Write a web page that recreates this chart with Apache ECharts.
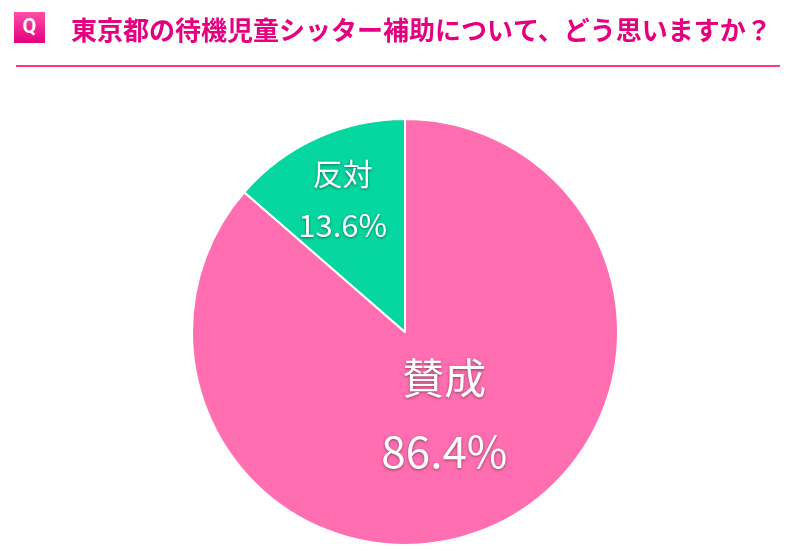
<!DOCTYPE html>
<html>
<head>
<meta charset="utf-8">
<script src="https://cdn.jsdelivr.net/npm/echarts@6/dist/echarts.min.js"></script>
<style>
  html, body { margin: 0; padding: 0; background: #fff; }
  #chart { width: 800px; height: 551px; }
</style>
</head>
<body>
<div id="chart"></div>
<script>
// data
const question = '東京都の待機児童シッター補助について、どう思いますか？'
const categories = ['賛成', '反対']
const shares = [86.4, 13.6]
const colors = ['#ff6eb0', '#06d6a0']

const chart = echarts.init(document.getElementById('chart'))

// per-slice label tweaks (size + nudge from the default inside spot)
const labelStyles = [
  { offset: [-6, -17], nameSize: 42, valSize: 44, gap: 74 },
  { offset: [-17, -33], nameSize: 30, valSize: 31, gap: 52 },
]

const pieData = categories.map((name, i) => ({
  name: name,
  value: shares[i],
  itemStyle: { color: colors[i] },
  label: {
    offset: labelStyles[i].offset,
    rich: {
      n: { fontSize: labelStyles[i].nameSize, lineHeight: labelStyles[i].gap, color: '#fff' },
      v: { fontSize: labelStyles[i].valSize, lineHeight: labelStyles[i].gap, color: '#fff' },
    },
  },
}))

const option = {
  animation: false,
  title: {
    text: question,
    left: 66,
    top: 12,
    textStyle: {
      color: '#e4007f',
      fontSize: 26,
      fontWeight: 'bold',
      fontFamily: 'Noto Sans CJK JP',
    },
  },
  graphic: [
    {
      type: 'rect',
      shape: { x: 14, y: 12, width: 31, height: 31 },
      style: {
        fill: new echarts.graphic.LinearGradient(0, 0, 0, 1, [
          { offset: 0, color: '#ff4fa8' },
          { offset: 1, color: '#e3007d' },
        ]),
      },
    },
    {
      type: 'text',
      x: 29.5,
      y: 28,
      style: {
        text: 'Q',
        fill: '#fff',
        font: 'bold 20px Roboto',
        align: 'center',
        verticalAlign: 'middle',
      },
    },
    {
      type: 'line',
      shape: { x1: 16, y1: 66, x2: 780, y2: 66 },
      style: { stroke: '#ff3399', lineWidth: 2 },
    },
  ],
  series: [
    {
      type: 'pie',
      center: [405, 332],
      radius: [0, 213],
      startAngle: 90,
      clockwise: true,
      itemStyle: { borderColor: '#fff', borderWidth: 2 },
      label: {
        show: true,
        position: 'inside',
        fontFamily: 'Noto Sans CJK JP',
        fontWeight: 'normal',
        color: '#fff',
        textShadowColor: 'rgba(0,0,0,0.45)',
        textShadowBlur: 3,
        textShadowOffsetY: 1,
        formatter: (p) => '{n|' + p.name + '}\n{v|' + p.value.toFixed(1) + '%}',
      },
      labelLine: { show: false },
      emphasis: { disabled: true },
      data: pieData,
    },
  ],
}

chart.setOption(option)
</script>
</body>
</html>
